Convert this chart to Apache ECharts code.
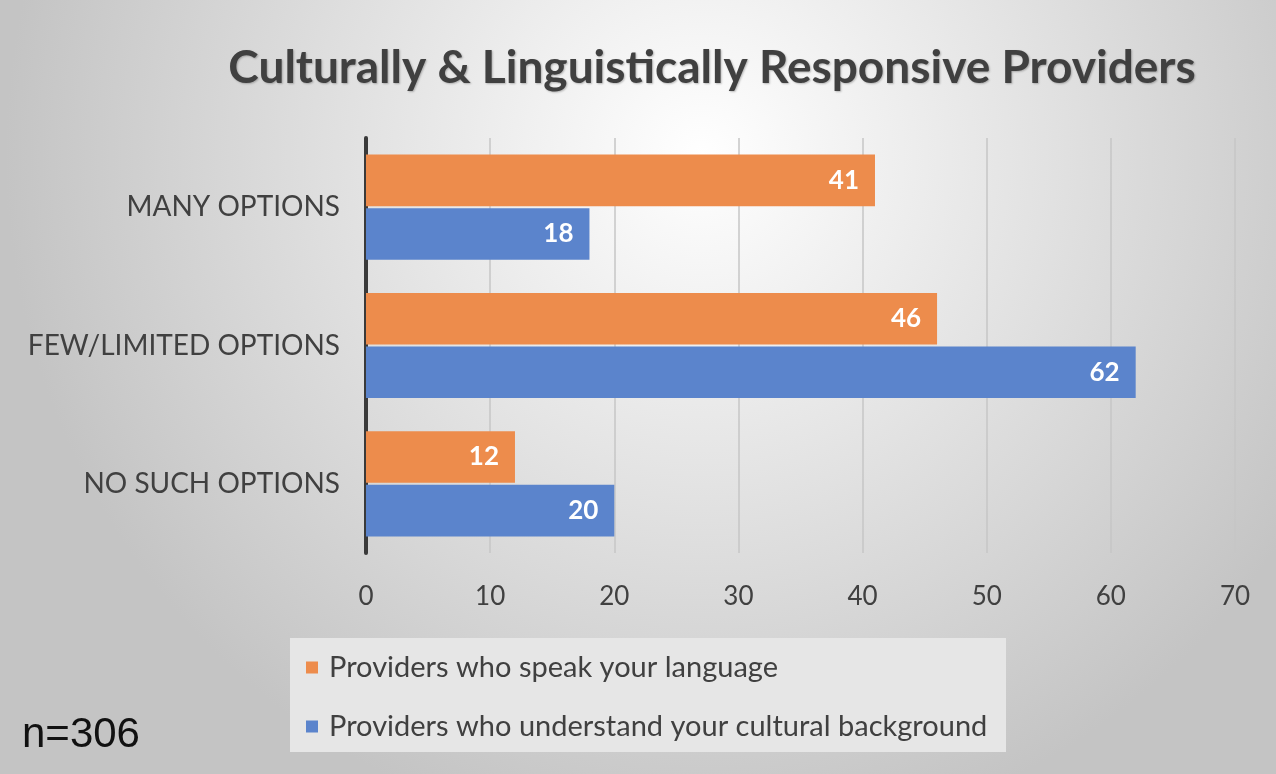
<!DOCTYPE html>
<html>
<head>
<meta charset="utf-8">
<script src="https://cdn.jsdelivr.net/npm/echarts@6/dist/echarts.min.js"></script>
<style>
  html, body { margin: 0; padding: 0; }
  #chart { width: 1276px; height: 774px; }
</style>
</head>
<body>
<div id="chart"></div>
<script>
var categories = ['NO SUCH OPTIONS', 'FEW/LIMITED OPTIONS', 'MANY OPTIONS'];
var speakLanguage = [12, 46, 41];
var understandCulture = [20, 62, 18];
var seriesNames = ['Providers who speak your language', 'Providers who understand your cultural background'];
var xTicks = [0, 70, 10];

var chart = echarts.init(document.getElementById('chart'));
var textColor = '#404040';
var font = 'Lato, "Open Sans", sans-serif';

var option = {
    backgroundColor: {
        type: 'radial', x: 0.55, y: 0.2, r: 0.9,
        colorStops: [
            { offset: 0, color: '#ffffff' },
            { offset: 1, color: '#c4c4c4' }
        ]
    },
    title: {
        text: 'Culturally & Linguistically Responsive Providers',
        left: 707, top: 40, textAlign: 'center',
        textStyle: {
            color: textColor, fontSize: 46, fontWeight: 'bold', fontFamily: font,
            textShadowColor: 'rgba(0,0,0,0.25)', textShadowBlur: 2, textShadowOffsetX: 1, textShadowOffsetY: 1
        }
    },
    graphic: [{
        type: 'rect', left: 290, top: 638,
        shape: { width: 716, height: 114 },
        style: { fill: '#e6e6e6' }, z: -1
    }, {
        type: 'text', left: 22, top: 714,
        style: { text: 'n=306', fill: '#111', font: '42px "Liberation Sans", Arial, sans-serif' }
    }],
    legend: {
        orient: 'vertical', left: 301, top: 648,
        itemWidth: 12, itemHeight: 12, itemGap: 30, icon: 'rect',
        textStyle: { color: textColor, fontSize: 29, fontFamily: font, padding: [0, 0, 0, 6] },
        data: seriesNames
    },
    grid: { left: 366, right: 41, top: 138, bottom: 221 },
    xAxis: {
        type: 'value', min: xTicks[0], max: xTicks[1], interval: xTicks[2],
        axisLine: { show: false },
        axisTick: { show: false },
        splitLine: { lineStyle: { color: '#c6c6c6', width: 1.5 } },
        axisLabel: { color: textColor, fontSize: 26, fontFamily: font, margin: 31 }
    },
    yAxis: {
        type: 'category', data: categories,
        axisLine: { lineStyle: { color: '#3a3a3a', width: 4 } },
        axisTick: { show: false },
        axisLabel: { color: textColor, fontSize: 28, fontFamily: font, margin: 26 }
    },
    series: [{
        name: seriesNames[0], type: 'bar', data: speakLanguage,
        barCategoryGap: '24%', barGap: '4%',
        itemStyle: { color: '#ed8c4c' },
        label: { show: true, position: 'insideRight', distance: 16, color: '#fff', fontSize: 26, fontWeight: 'bold', fontFamily: font }
    }, {
        name: seriesNames[1], type: 'bar', data: understandCulture,
        barCategoryGap: '24%', barGap: '4%',
        itemStyle: { color: '#5b84cc' },
        label: { show: true, position: 'insideRight', distance: 16, color: '#fff', fontSize: 26, fontWeight: 'bold', fontFamily: font }
    }]
};
chart.setOption(option);
</script>
</body>
</html>
